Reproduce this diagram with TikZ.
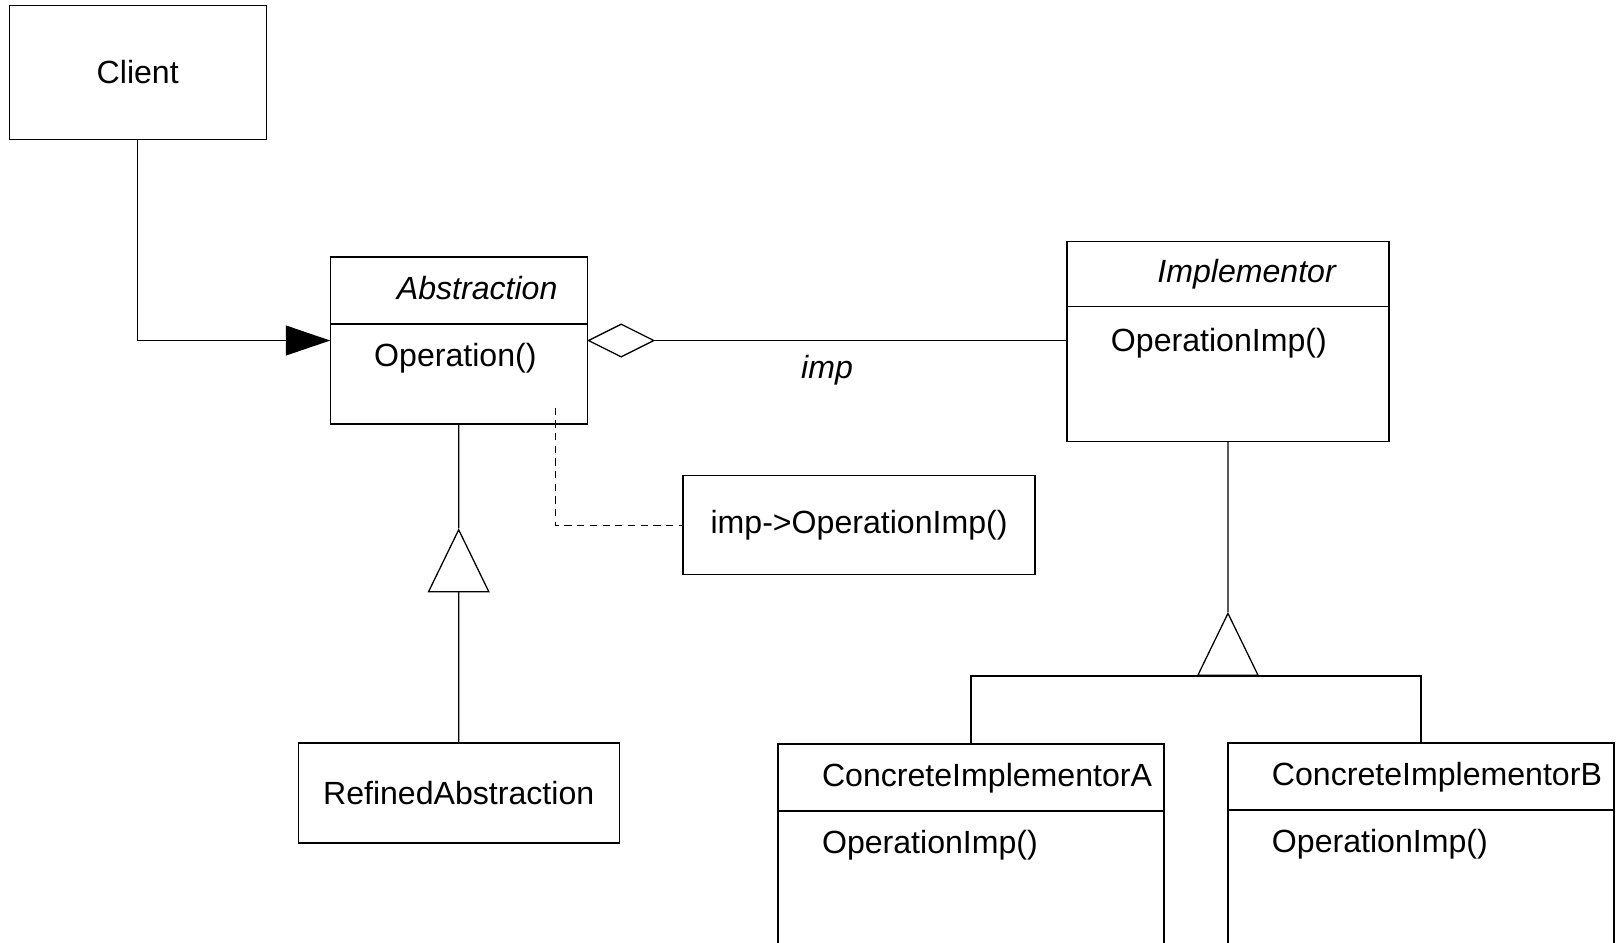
\documentclass[tikz,border=0pt]{standalone}
\usepackage{fontspec}
\setmainfont{Liberation Sans}
\usetikzlibrary{arrows.meta}

\newcommand{\umlfont}{\fontsize{8.85}{10.6}\selectfont}
\tikzset{
  umlbox/.style={draw, line width=0.35pt, inner sep=0pt, outer sep=0pt,
                 anchor=north west, font=\umlfont},
  txt/.style={inner sep=0pt, anchor=base west, font=\umlfont},
  ital/.style={txt, font=\umlfont\itshape},
  inherit/.style={-{Triangle[open,length=6.2mm,width=6mm]}},
}
% divider line of a class box: node, y
\newcommand{\classline}[2]{
  \draw[line width=0.35pt] (#1.west |- 0,#2) -- (#1.east |- 0,#2);
}

\begin{document}
\begin{tikzpicture}[x=1cm,y=-1cm,line width=0.35pt]
  \useasboundingbox (0,0) rectangle (15.68,9.13);
  \clip (0,0) rectangle (15.68,9.13);

  \node[umlbox, minimum width=2.49cm, minimum height=1.30cm] (client) at (0.09,0.05) {Client};
  \node[umlbox, minimum width=2.49cm, minimum height=1.62cm] (abs) at (3.20,2.49) {};
  \node[umlbox, minimum width=3.12cm, minimum height=1.94cm] (impl) at (10.34,2.34) {};
  \node[umlbox, minimum width=3.41cm, minimum height=0.96cm] (note) at (6.62,4.61) {imp->OperationImp()};
  \node[umlbox, minimum width=3.11cm, minimum height=0.97cm] (refined) at (2.89,7.20) {RefinedAbstraction};
  \node[umlbox, minimum width=3.74cm, minimum height=2.50cm] (concA) at (7.54,7.21) {};
  \node[umlbox, minimum width=3.74cm, minimum height=2.50cm] (concB) at (11.90,7.20) {};

  \classline{abs}{3.14}
  \classline{impl}{2.97}
  \classline{concA}{7.86}
  \classline{concB}{7.85}

  \node[ital] (absname) at (3.84,2.905) {Abstraction};
  \node[txt] (absop) at (3.62,3.555) {Operation()};
  \node[ital] (implname) at (11.21,2.735) {Implementor};
  \node[txt] (implop) at (10.76,3.41) {OperationImp()};
  \node[txt] (aname) at (7.96,7.62) {ConcreteImplementorA};
  \node[txt] (aop) at (7.96,8.27) {OperationImp()};
  \node[txt] (bname) at (12.32,7.61) {ConcreteImplementorB};
  \node[txt] (bop) at (12.32,8.26) {OperationImp()};

  % client -> abstraction
  \draw[-{Triangle[length=4.3mm,width=2.9mm]}] (client.south) |- (abs.west);

  % aggregation
  \draw[{Diamond[open,length=6.6mm,width=3.3mm]}-] (abs.east) -- (abs.east -| impl.west)
        node[pos=0.5, anchor=base, yshift=-3.7mm, font=\umlfont\itshape] (implabel) {imp};

  % note
  \coordinate (dashtop) at (5.38,3.95);
  \draw[dash pattern=on 2pt off 1.5pt] (dashtop) |- (note.west);

  % inheritance
  \coordinate (apexA) at (4.445,5.12);
  \draw (abs.south) -- (apexA);
  \draw[inherit] (refined.north) -- (apexA);

  \coordinate (apexI) at (11.90,5.93);
  \coordinate (bus) at (11.90,6.55);
  \draw (impl.south) -- (apexI);
  \draw[inherit] (bus) -- (apexI);
  \draw (concA.north) |- (bus) -| (concB.north);
\end{tikzpicture}
\end{document}
